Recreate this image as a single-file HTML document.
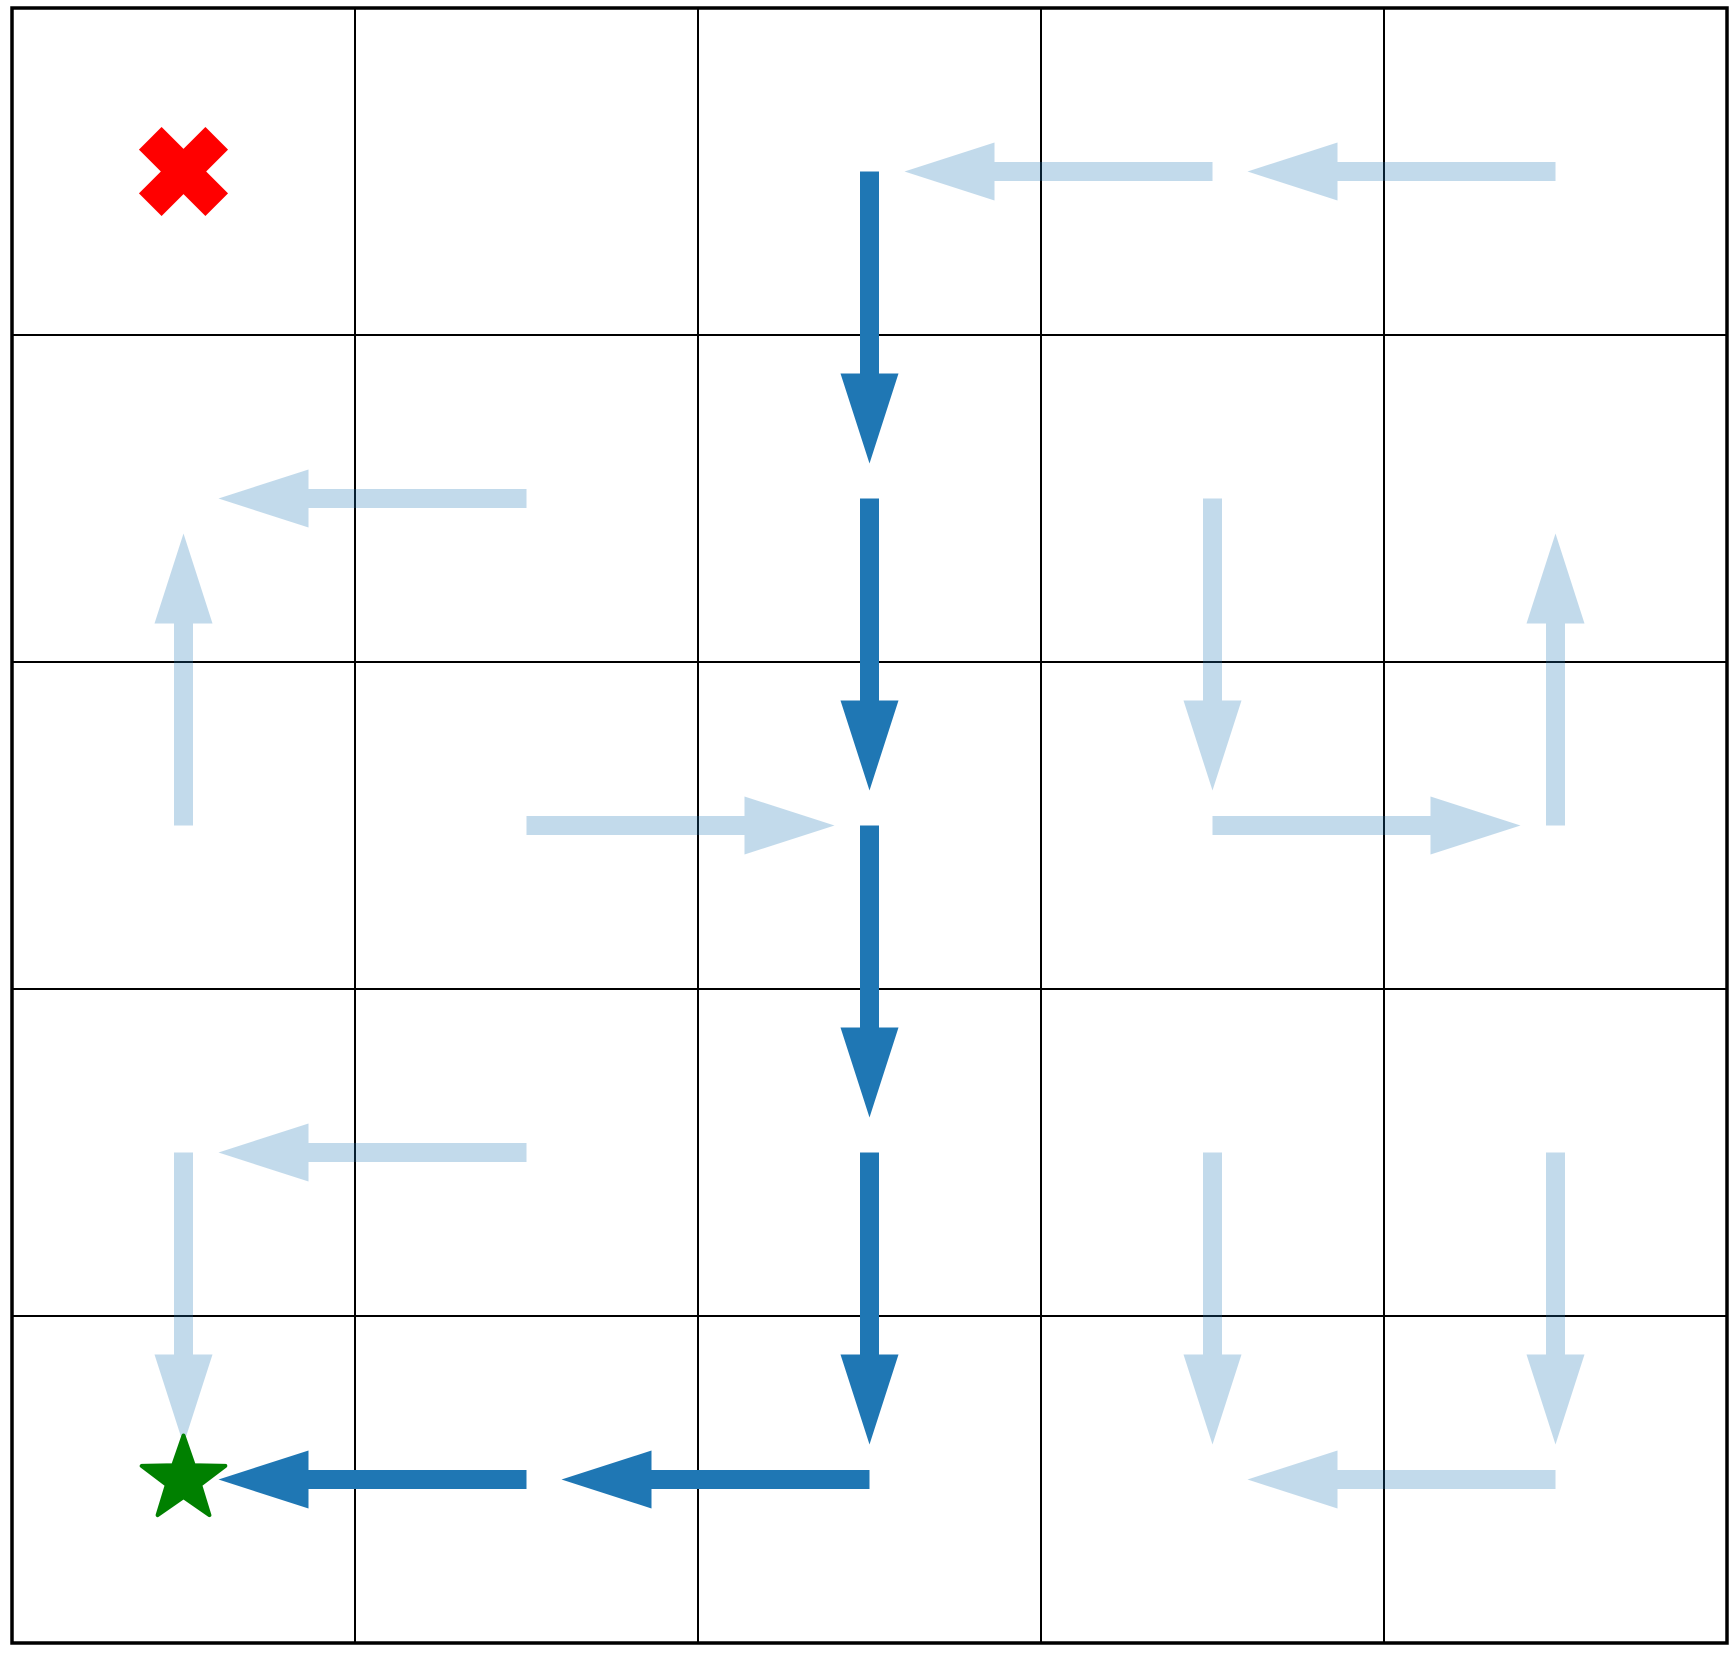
<!DOCTYPE html>
<html><head><meta charset="utf-8"><style>html,body{margin:0;padding:0;background:#fff}svg{display:block}</style></head>
<body>
<svg id="chart" width="1736" height="1658" viewBox="0 0 1736 1658" xmlns="http://www.w3.org/2000/svg">
<rect x="0" y="0" width="1736" height="1658" fill="#fff"/>
<g id="grid"></g>
<g id="arrows"></g>
<g id="markers"></g>
</svg>
<script>
const nRows = 5, nCols = 5;
const lightRows = [0,0,1,2,1,2,2,2,3,3,3,3,4];
const lightCols = [3,4,1,0,3,4,1,3,1,0,3,4,4];
const lightDirs = ['L','L','L','U','D','U','R','R','L','D','D','D','L'];
const pathRows = [0,1,2,3,4,4];
const pathCols = [2,2,2,2,2,1];
const pathDirs = ['D','D','D','D','L','L'];
const goalCell = [0,0];
const startCell = [4,0];

const X0=12, X1=1727, Y0=8, Y1=1643;
const cw=(X1-X0)/nCols, ch=(Y1-Y0)/nRows;
const cx=c=>X0+(c+0.5)*cw, cy=r=>Y0+(r+0.5)*ch;
const NS='http://www.w3.org/2000/svg';
function mk(tag,attrs,parent){const e=document.createElementNS(NS,tag);for(const k in attrs)e.setAttribute(k,attrs[k]);parent.appendChild(e);return e;}
const grid=document.getElementById('grid');
for(let i=1;i<nCols;i++){const l=mk('line',{x1:X0+i*cw,x2:X0+i*cw,y1:Y0,y2:Y1,stroke:'#000','stroke-width':2},grid);

}
for(let i=1;i<nRows;i++){const l=mk('line',{x1:X0,x2:X1,y1:Y0+i*ch,y2:Y0+i*ch,stroke:'#000','stroke-width':2},grid);

}
const b=mk('rect',{x:X0,y:Y0,width:X1-X0,height:Y1-Y0,fill:'none',stroke:'#000','stroke-width':3.5},grid);



const dv={L:[-1,0],R:[1,0],U:[0,-1],D:[0,1]};
const arrows=document.getElementById('arrows');
function arrow(r,c,d,color,op,name){
  const [dx,dy]=dv[d];const x=cx(c),y=cy(r);
  const len=(dx?cw:ch)-35, hl=90, hw=29, sw=9.5;
  const ang=Math.atan2(dy,dx)*180/Math.PI;
  const pts=[[0,-sw],[len-hl,-sw],[len-hl,-hw],[len,0],[len-hl,hw],[len-hl,sw],[0,sw]].map(p=>p.join(',')).join(' ');
  const p=mk('polygon',{points:pts,fill:color,'fill-opacity':op,transform:`translate(${x},${y}) rotate(${ang})`},arrows);
  
  
}
for(let i=0;i<lightRows.length;i++)arrow(lightRows[i],lightCols[i],lightDirs[i],'#1f77b4',0.27,'policy-arrow');
for(let i=0;i<pathRows.length;i++)arrow(pathRows[i],pathCols[i],pathDirs[i],'#1f77b4',1,'path-arrow');

const markers=document.getElementById('markers');
{const x=cx(goalCell[1]),y=cy(goalCell[0]);const t=16,L=47;
 const g=mk('g',{transform:`translate(${x},${y}) rotate(45)`},markers);
 
 
 mk('rect',{x:-L,y:-t,width:2*L,height:2*t,fill:'#ff0000'},g);
 mk('rect',{x:-t,y:-L,width:2*t,height:2*L,fill:'#ff0000'},g);}
{const x=cx(startCell[1]),y=cy(startCell[0]);const R=44,ri=R*0.40;let pts=[];
 for(let k=0;k<10;k++){const a=-Math.PI/2+k*Math.PI/5;const rr=k%2?ri:R;pts.push((x+rr*Math.cos(a)).toFixed(1)+','+(y+rr*Math.sin(a)).toFixed(1));}
 const s=mk('polygon',{points:pts.join(' '),fill:'#008000',stroke:'#008000','stroke-width':4,'stroke-linejoin':'round'},markers);
 
 }
</script>
</body></html>
